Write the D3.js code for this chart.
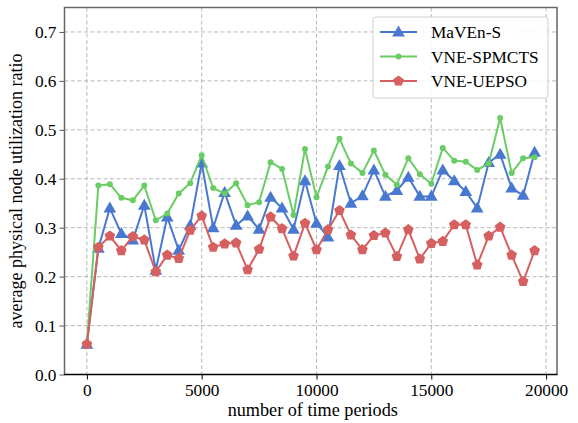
<!DOCTYPE html>
<html><head><meta charset="utf-8">
<script src="https://cdn.jsdelivr.net/npm/d3@7/dist/d3.min.js"></script>
<style>body{margin:0;background:#fff}svg{display:block}</style>
</head><body><svg id="c" width="578" height="423"></svg>
<script>
const periods = d3.range(0, 20000, 500);
const mavenS = [0.062,0.258,0.340,0.288,0.275,0.346,0.213,0.322,0.254,0.305,0.432,0.300,0.372,0.305,0.324,0.297,0.362,0.340,0.297,0.396,0.309,0.281,0.427,0.350,0.365,0.418,0.364,0.376,0.403,0.364,0.364,0.418,0.396,0.374,0.340,0.433,0.450,0.381,0.366,0.454];
const spmcts = [0.062,0.386,0.389,0.361,0.356,0.386,0.315,0.329,0.370,0.391,0.448,0.381,0.370,0.391,0.346,0.352,0.434,0.420,0.326,0.461,0.362,0.425,0.482,0.431,0.412,0.458,0.408,0.388,0.442,0.409,0.390,0.463,0.437,0.435,0.418,0.431,0.524,0.412,0.442,0.444];
const uepso = [0.062,0.260,0.283,0.253,0.282,0.275,0.210,0.244,0.237,0.295,0.324,0.260,0.267,0.269,0.214,0.256,0.322,0.298,0.242,0.309,0.255,0.296,0.335,0.285,0.255,0.284,0.289,0.241,0.296,0.236,0.268,0.272,0.306,0.306,0.224,0.283,0.301,0.244,0.190,0.253];
const xTicks = [0,5000,10000,15000,20000];
const yTicks = [0,0.1,0.2,0.3,0.4,0.5,0.6,0.7];
const seriesNames = ["MaVEn-S","VNE-SPMCTS","VNE-UEPSO"];

const series = [
  {name:seriesNames[0], values:mavenS, color:"#4878d0", marker:"tri"},
  {name:seriesNames[1], values:spmcts, color:"#6acc64", marker:"circ"},
  {name:seriesNames[2], values:uepso, color:"#d65f5f", marker:"pent"}
];
const FONT = "'Liberation Serif', 'Times New Roman', Tinos, 'DejaVu Serif', 'Noto Serif', serif";

const svg = d3.select("#c");
const L=64.5, R=557, T=7.5, B=374.5;
const x = d3.scaleLinear().domain([-975, 20475]).range([L, R]);
const y = d3.scaleLinear().domain([0, 0.75]).range([B, T]);

// grid
const g = svg.append("g");
g.selectAll(".gx").data(xTicks).join("line")
  .attr("x1", d=>x(d)).attr("x2", d=>x(d)).attr("y1", T).attr("y2", B)
  .attr("stroke","#b0b0b0").attr("stroke-width",0.9).attr("stroke-dasharray","4,2.5");
g.selectAll(".gy").data(yTicks).join("line")
  .attr("x1", L).attr("x2", R).attr("y1", d=>y(d)).attr("y2", d=>y(d))
  .attr("stroke","#b0b0b0").attr("stroke-width",0.9).attr("stroke-dasharray","4,2.5");

// axes
const xa = svg.append("g").attr("transform",`translate(0,${B})`)
  .call(d3.axisBottom(x).tickValues(xTicks).tickFormat(d3.format("d")).tickSize(5).tickPadding(4).tickSizeOuter(0));
xa.attr("font-family", null);
xa.select(".domain").remove();
xa.selectAll("line").attr("stroke","#000");
xa.selectAll("text").attr("fill","#000").style("font-family",FONT).style("font-size","17.3px");
const ya = svg.append("g").attr("transform",`translate(${L},0)`)
  .call(d3.axisLeft(y).tickValues(yTicks).tickFormat(d3.format(".1f")).tickSize(5).tickPadding(3).tickSizeOuter(0));
ya.attr("font-family", null);
ya.select(".domain").remove();
ya.selectAll("line").attr("stroke","#555");
ya.selectAll("text").attr("fill","#000").style("font-family",FONT).style("font-size","17.3px");

// frame
svg.append("path").attr("d",`M${L},${B}V${T}H${R}V${B}`).attr("fill","none").attr("stroke","#666").attr("stroke-width",1.5);
svg.append("line").attr("x1",L-0.5).attr("x2",R+0.5).attr("y1",B).attr("y2",B).attr("stroke","#000").attr("stroke-width",1.3);

const tri = d3.symbol().type(d3.symbolTriangle).size(70);
const pent = (r)=>{const pts=d3.range(5).map(i=>{const a=-Math.PI/2+i*2*Math.PI/5;return [r*Math.cos(a),r*Math.sin(a)]});return "M"+pts.join("L")+"Z";};
function drawMarker(sel, m, color){
  if(m==="tri") sel.append("path").attr("d",tri).attr("transform","translate(0,0.8)").attr("fill",color);
  else if(m==="circ") sel.append("circle").attr("r",3).attr("fill",color);
  else sel.append("path").attr("d",pent(5.6)).attr("fill",color);
}

const line = d3.line().x((d,i)=>x(periods[i])).y(d=>y(d));
series.forEach(s=>{
  const gs = svg.append("g");
  gs.append("path").datum(s.values).attr("d",line).attr("fill","none").attr("stroke",s.color).attr("stroke-width",2);
  gs.selectAll("g.m").data(s.values).join("g").attr("class","m")
    .attr("transform",(d,i)=>`translate(${x(periods[i])},${y(d)})`)
    .each(function(){drawMarker(d3.select(this), s.marker, s.color);});
});

// legend
const lg = svg.append("g");
lg.append("rect").attr("x",373).attr("y",17).attr("width",175).attr("height",81).attr("rx",3)
  .attr("fill","rgba(255,255,255,0.85)").attr("stroke","#d0d0d0").attr("stroke-width",1);
series.forEach((s,i)=>{
  const yy = 32 + i*24.5;
  const e = lg.append("g");
  e.append("line").attr("x1",380).attr("x2",417).attr("y1",yy).attr("y2",yy).attr("stroke",s.color).attr("stroke-width",2);
  const mg = e.append("g").attr("transform",`translate(398.5,${yy})`);
  drawMarker(mg, s.marker, s.color);
  e.append("text").attr("x",431).attr("y",yy).attr("dy","0.35em").attr("fill","#000")
    .style("font-family",FONT).style("font-size","17.3px").text(s.name);
});

// labels
svg.append("text").attr("x",(L+R)/2+2).attr("y",416).attr("text-anchor","middle").attr("fill","#000")
  .style("font-family",FONT).style("font-size","18.2px").text("number of time periods");
svg.append("text").attr("transform",`translate(22,${(T+B)/2}) rotate(-90)`).attr("text-anchor","middle").attr("fill","#000")
  .style("font-family",FONT).style("font-size","18px").text("average physical node utilization ratio");
</script></body></html>
